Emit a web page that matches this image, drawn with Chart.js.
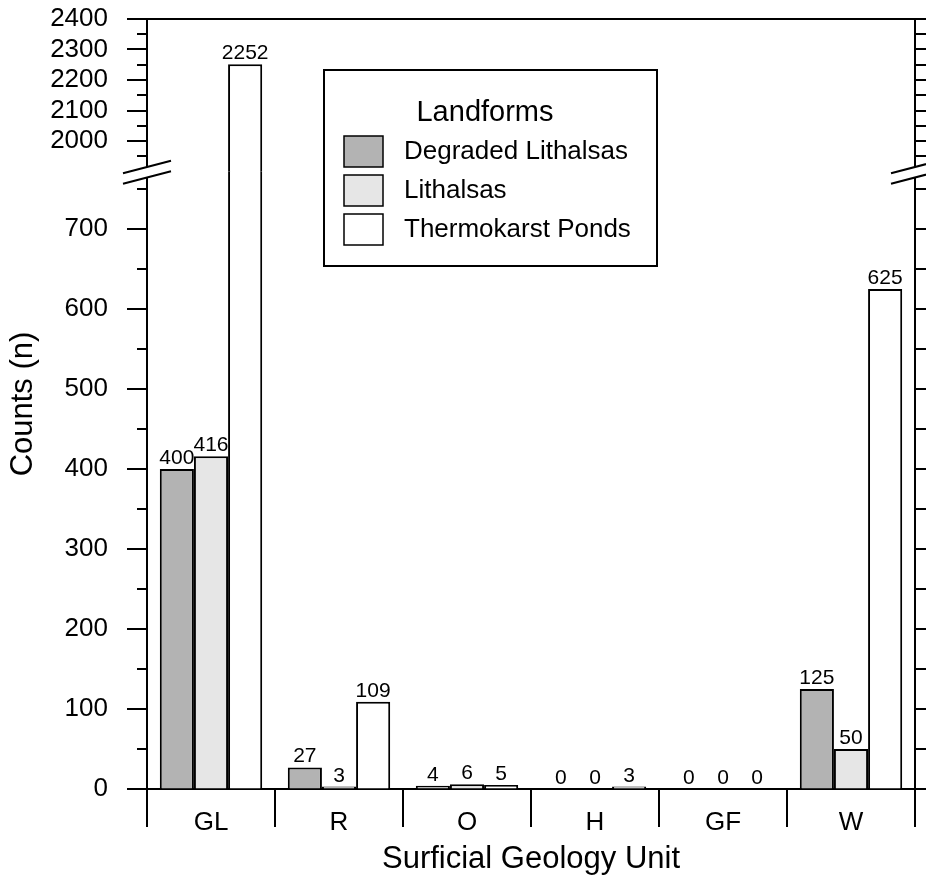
<!DOCTYPE html>
<html>
<head>
<meta charset="utf-8">
<script src="https://cdn.jsdelivr.net/npm/chart.js@4.4.1/dist/chart.umd.min.js"></script>
<style>
  body { margin: 0; background: #fff; }
</style>
</head>
<body>
<canvas id="myChart" width="926" height="878"></canvas>
<script>
const units = ['GL', 'R', 'O', 'H', 'GF', 'W'];
const landforms = ['Degraded Lithalsas', 'Lithalsas', 'Thermokarst Ponds'];
const degraded = [400, 27, 4, 0, 0, 125];
const lithalsas = [416, 3, 6, 0, 0, 50];
const ponds = [2252, 109, 5, 3, 0, 625];
const fills = ['#b3b3b3', '#e6e6e6', '#ffffff'];
// y axis is broken in two parts
const lowRange = [0, 772];
const highRange = [1900, 2400];

const fontFamily = '"Liberation Sans", Arial, sans-serif';
const series = [degraded, lithalsas, ponds];

const datasets = [];
series.forEach((vals, i) => {
    datasets.push({
        label: landforms[i],
        data: vals,
        yAxisID: 'y',
        stack: 's' + i,
        backgroundColor: fills[i],
        borderColor: '#000',
        borderWidth: 2,
        barPercentage: 1,
        categoryPercentage: 0.8,
        clip: false
    });
});
// same bars again on the upper part of the axis
series.forEach((vals, i) => {
    datasets.push({
        label: landforms[i],
        data: vals.map(v => v > highRange[0] ? v : null),
        yAxisID: 'yTop',
        stack: 's' + i,
        backgroundColor: fills[i],
        borderColor: '#000',
        borderWidth: 2,
        barPercentage: 1,
        categoryPercentage: 0.8,
        clip: false
    });
});

function breakY(chart) {
    return (chart.scales.yTop.bottom + chart.scales.y.top) / 2;
}

const brokenAxis = {
    id: 'brokenAxis',
    beforeDatasetDraw(chart, args) {
        const area = chart.chartArea;
        const yb = breakY(chart);
        const top = args.meta.yAxisID === 'yTop' ? area.top : yb;
        const bottom = args.meta.yAxisID === 'yTop' ? yb : area.bottom;
        const ctx = chart.ctx;
        ctx.save();
        ctx.beginPath();
        ctx.rect(area.left, top, area.right - area.left, bottom - top);
        ctx.clip();
    },
    afterDatasetDraw(chart) {
        chart.ctx.restore();
    },
    afterDraw(chart) {
        const ctx = chart.ctx;
        const area = chart.chartArea;
        const low = chart.scales.y;
        const high = chart.scales.yTop;
        ctx.save();
        ctx.strokeStyle = '#000';
        ctx.lineWidth = 2;

        // top and right frame
        ctx.beginPath();
        ctx.moveTo(area.left, area.top);
        ctx.lineTo(area.right, area.top);
        ctx.moveTo(area.right, area.top);
        ctx.lineTo(area.right, area.bottom);
        ctx.stroke();

        // tick marks every 50
        [low, high].forEach(scale => {
            const start = Math.ceil(scale.min / 50) * 50;
            for (let v = start; v <= scale.max; v += 50) {
                if (scale === high && v === scale.min) continue;
                const py = Math.round(scale.getPixelForValue(v));
                const len = v % 100 === 0 ? 20 : 10;
                ctx.beginPath();
                ctx.moveTo(area.left - len, py);
                ctx.lineTo(area.left, py);
                ctx.moveTo(area.right, py);
                ctx.lineTo(area.right + 13, py);
                ctx.stroke();
            }
        });

        // break marks
        const yb = breakY(chart);
        [area.left, area.right].forEach(x => {
            const dx = 24, slope = 0.2625;
            const y1 = yb - 4.5, y2 = yb + 6;
            ctx.fillStyle = '#fff';
            ctx.beginPath();
            ctx.moveTo(x - 3, y1 + 3 * slope);
            ctx.lineTo(x + 3, y1 - 3 * slope);
            ctx.lineTo(x + 3, y2 - 3 * slope);
            ctx.lineTo(x - 3, y2 + 3 * slope);
            ctx.closePath();
            ctx.fill();
            ctx.beginPath();
            ctx.moveTo(x - dx, y1 + dx * slope);
            ctx.lineTo(x + dx, y1 - dx * slope);
            ctx.moveTo(x - dx, y2 + dx * slope);
            ctx.lineTo(x + dx, y2 - dx * slope);
            ctx.stroke();
        });

        // value labels above bars
        ctx.fillStyle = '#000';
        ctx.font = '21px ' + fontFamily;
        ctx.textAlign = 'center';
        ctx.textBaseline = 'alphabetic';
        chart.data.datasets.forEach((ds, di) => {
            const meta = chart.getDatasetMeta(di);
            const scale = chart.scales[ds.yAxisID];
            meta.data.forEach((bar, j) => {
                const v = ds.data[j];
                if (v === null || v < scale.min || v > scale.max) return;
                ctx.fillText(String(v), bar.x, bar.y - 5);
            });
        });

        // legend box
        const lx = area.left + 177, ly = area.top + 51, lw = 333, lh = 196;
        ctx.fillStyle = '#fff';
        ctx.fillRect(lx, ly, lw, lh);
        ctx.strokeRect(lx, ly, lw, lh);
        ctx.fillStyle = '#000';
        ctx.font = '29px ' + fontFamily;
        ctx.textAlign = 'center';
        ctx.textBaseline = 'middle';
        ctx.fillText('Landforms', lx + 161, ly + 43);
        ctx.font = '26px ' + fontFamily;
        ctx.textAlign = 'left';
        landforms.forEach((name, i) => {
            const sy = ly + 66 + i * 39;
            ctx.fillStyle = fills[i];
            ctx.fillRect(lx + 20, sy, 39, 31);
            ctx.lineWidth = 1.5;
            ctx.strokeRect(lx + 20, sy, 39, 31);
            ctx.fillStyle = '#000';
            ctx.fillText(name, lx + 80, sy + 16);
        });

        // y axis title over both parts
        ctx.save();
        ctx.translate(23, (area.top + area.bottom) / 2);
        ctx.rotate(-Math.PI / 2);
        ctx.font = '31px ' + fontFamily;
        ctx.textAlign = 'center';
        ctx.textBaseline = 'middle';
        ctx.fillText('Counts (n)', 0, 0);
        ctx.restore();

        ctx.restore();
    }
};

const ctx = document.getElementById('myChart');
Chart.defaults.color = '#000';
Chart.defaults.font.family = fontFamily;

// y tick marks are drawn by the plugin, chart.js grid only makes room for the labels
const yGrid = { drawOnChartArea: false, drawTicks: true, tickLength: 35.6, tickColor: 'rgba(0,0,0,0)' };

new Chart(ctx, {
    type: 'bar',
    data: {
        labels: units,
        datasets: datasets
    },
    options: {
        responsive: false,
        animation: false,
        devicePixelRatio: 1,
        layout: {
            padding: { top: 0, right: 11, left: 0, bottom: 0 }
        },
        scales: {
            x: {
                grid: {
                    drawOnChartArea: false,
                    tickLength: 38,
                    color: '#000',
                    lineWidth: 2
                },
                border: { color: '#000', width: 2 },
                ticks: {
                    font: { size: 26 },
                    padding: -20
                },
                title: {
                    display: true,
                    text: 'Surficial Geology Unit',
                    font: { size: 31 },
                    padding: { top: 4, bottom: 0 }
                },
                afterFit(scale) { scale.height = 89; }
            },
            y: {
                stack: 'counts',
                stackWeight: 617.5,
                min: lowRange[0],
                max: lowRange[1],
                grid: yGrid,
                border: { color: '#000', width: 2 },
                ticks: {
                    stepSize: 100,
                    autoSkip: false,
                    includeBounds: false,
                    padding: 3.4,
                    font: { size: 26 },
                    callback: v => v % 100 === 0 ? v : ''
                },
                afterFit(scale) { scale.width = 147; }
            },
            yTop: {
                type: 'linear',
                position: 'left',
                stack: 'counts',
                stackWeight: 152.5,
                min: highRange[0],
                max: highRange[1],
                grid: yGrid,
                border: { color: '#000', width: 2 },
                ticks: {
                    stepSize: 100,
                    autoSkip: false,
                    includeBounds: false,
                    padding: 3.4,
                    font: { size: 26 },
                    callback: v => (v % 100 === 0 && v !== highRange[0]) ? v : ''
                },
                afterFit(scale) { scale.width = 147; }
            }
        },
        plugins: {
            legend: { display: false },
            tooltip: { enabled: false }
        }
    },
    plugins: [brokenAxis]
});
</script>
</body>
</html>
